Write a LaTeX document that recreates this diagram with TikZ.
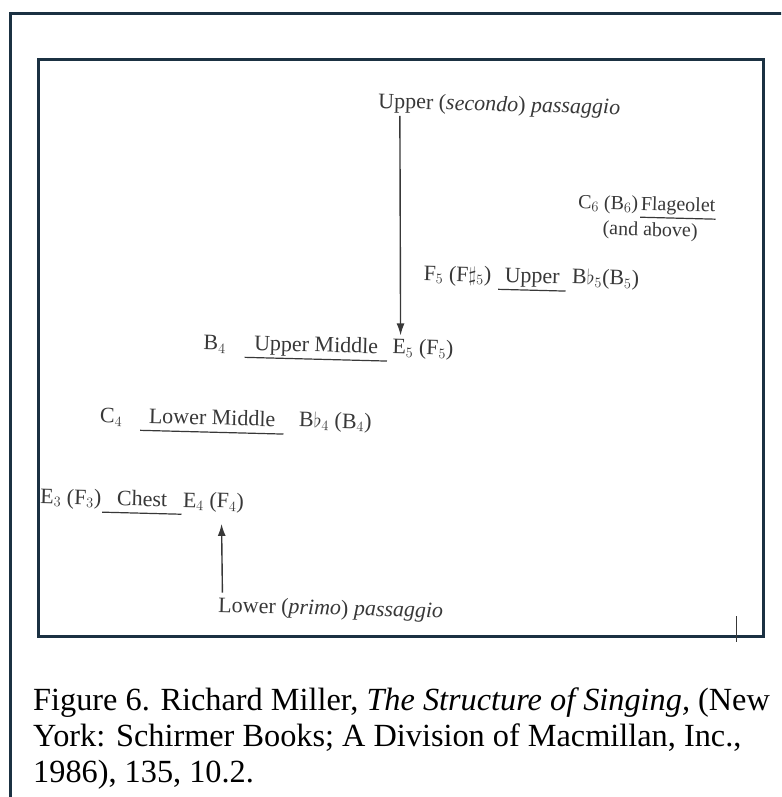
\documentclass[tikz,border=0pt]{standalone}
\usepackage{fontspec}
\usepackage{tikz}
\usetikzlibrary{positioning}
\usetikzlibrary{arrows.meta}
\setmainfont{Liberation Serif}
\definecolor{framecol}{HTML}{1B3142}
\definecolor{inkcol}{HTML}{383838}
\tikzstyle{pitch} = [inner sep=0pt, text=inkcol, font=\fontsize{22}{24}\selectfont, rotate=-1.5]
\tikzstyle{small} = [font=\fontsize{20}{22}\selectfont]
\tikzstyle{register} = [pitch, inner xsep=0pt, inner ysep=3pt, text depth=4pt]
\tikzstyle{bar} = [inkcol, line width=1.2pt]
\tikzstyle{arrow} = [inkcol, line width=1.4pt, -{Latex[length=12pt,width=8pt]}]
\tikzstyle{frame} = [framecol, line width=3pt]
\tikzstyle{caption} = [anchor=base west, inner sep=0pt, font=\fontsize{32.3}{36}\selectfont]

\begin{document}
\begin{tikzpicture}[x=1pt, y=-1pt]
    \useasboundingbox (0,0) rectangle (781,797);
    \begin{scope}
        \clip (0,0) rectangle (781,797);
        \draw[frame] (10,14) rectangle (800,820);
    \end{scope}
    \draw[frame] (38,60) rectangle (763,636);
    \draw[inkcol, line width=1pt] (736,616) -- (736,642);

    % top of the scale
    \node[pitch, anchor=base west] (upperpass) at (378,108) {Upper (\textit{secondo}) \textit{passaggio}};

    \node[register, small, minimum width=75pt, anchor=base] (flag) at (678,211) {Flageolet};
    \draw[bar] (flag.south west) -- (flag.south east);
    \node[pitch, small, base left=2pt of flag] (c6) {C$_6$ (B$_6$)};
    \node[pitch, small, anchor=base] (andabove) at (650,236) {(and above)};

    \node[register, minimum width=67pt, anchor=base] (upper) at (532,283) {Upper};
    \draw[bar] (upper.south west) -- (upper.south east);
    \node[pitch, base left=7pt of upper] (f5) {F$_5$ (F$\sharp_5$)};
    \node[pitch, base right=6pt of upper] (bb5) {B$\flat_5$(B$_5$)};

    \node[register, minimum width=142pt, anchor=base] (uppermid) at (316,352) {Upper Middle};
    \draw[bar] (uppermid.south west) -- (uppermid.south east);
    \node[pitch, base left=19pt of uppermid] (b4) {B$_4$};
    \node[pitch, base right=5pt of uppermid] (e5) {E$_5$ (F$_5$)};

    \node[register, minimum width=143pt, anchor=base] (lowermid) at (212,425) {Lower Middle};
    \draw[bar] (lowermid.south west) -- (lowermid.south east);
    \node[pitch, base left=18pt of lowermid] (c4) {C$_4$};
    \node[pitch, base right=15pt of lowermid] (bb4) {B$\flat_4$ (B$_4$)};

    \node[register, minimum width=79pt, anchor=base] (chest) at (142,506) {Chest};
    \draw[bar] (chest.south west) -- (chest.south east);
    \node[pitch, base left=1pt of chest] (e3) {E$_3$ (F$_3$)};
    \node[pitch, base right=1pt of chest] (e4) {E$_4$ (F$_4$)};

    % bottom of the scale
    \node[pitch, anchor=base west] (lowpass) at (218,612) {Lower (\textit{primo}) \textit{passaggio}};

    \draw[arrow] ([xshift=22pt, yshift=-3pt]upperpass.south west) -- ([xshift=8pt, yshift=3pt]e5.north west);
    \draw[arrow] ([xshift=4pt, yshift=4pt]lowpass.north west) -- ([xshift=39pt, yshift=-12pt]e4.south west);

    % caption
    \node[caption] (cap1) at (33,710) {Figure 6. Richard Miller, \textit{The Structure of Singing,} (New};
    \node[caption] (cap2) at (33,746) {York: Schirmer Books; A Division of Macmillan, Inc.,};
    \node[caption] (cap3) at (33,782) {1986), 135, 10.2.};
\end{tikzpicture}
\end{document}
